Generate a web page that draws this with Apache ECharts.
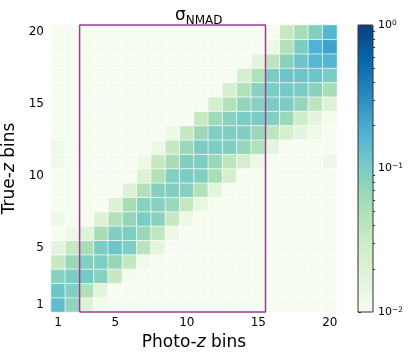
<!DOCTYPE html>
<html>
<head>
<meta charset="utf-8">
<script src="https://cdn.jsdelivr.net/npm/echarts@6/dist/echarts.min.js"></script>
<style>
  html, body { margin: 0; background: #fff; }
  #main { width: 409px; height: 359px; }
</style>
</head>
<body>
<div id="main"></div>
<script>
var photoBins = ['1','2','3','4','5','6','7','8','9','10','11','12','13','14','15','16','17','18','19','20'];
var trueBins = ['1','2','3','4','5','6','7','8','9','10','11','12','13','14','15','16','17','18','19','20'];
var tickBins = ['1','5','10','15','20'];

// sigma_NMAD, one array per true-z bin, values over the 20 photo-z bins
var true01 = [0.14, 0.075, 0.019, 0.011, 0.01, 0.01, 0.01, 0.01, 0.01, 0.01, 0.01, 0.01, 0.01, 0.01, 0.01, 0.01, 0.01, 0.01, 0.01, 0.01];
var true02 = [0.12, 0.091, 0.05, 0.017, 0.01, 0.01, 0.01, 0.01, 0.01, 0.01, 0.01, 0.01, 0.01, 0.01, 0.01, 0.01, 0.01, 0.01, 0.01, 0.01];
var true03 = [0.083, 0.1, 0.11, 0.085, 0.035, 0.011, 0.01, 0.01, 0.01, 0.01, 0.01, 0.01, 0.01, 0.01, 0.01, 0.01, 0.01, 0.01, 0.01, 0.01];
var true04 = [0.035, 0.066, 0.091, 0.095, 0.072, 0.037, 0.012, 0.01, 0.01, 0.01, 0.01, 0.01, 0.01, 0.01, 0.01, 0.01, 0.01, 0.01, 0.01, 0.01];
var true05 = [0.016, 0.035, 0.056, 0.1, 0.12, 0.095, 0.042, 0.016, 0.01, 0.01, 0.01, 0.01, 0.01, 0.01, 0.01, 0.01, 0.01, 0.01, 0.01, 0.01];
var true06 = [0.01, 0.013, 0.019, 0.056, 0.091, 0.095, 0.066, 0.038, 0.013, 0.01, 0.01, 0.01, 0.01, 0.01, 0.01, 0.01, 0.01, 0.01, 0.01, 0.01];
var true07 = [0.013, 0.01, 0.01, 0.019, 0.048, 0.072, 0.1, 0.083, 0.035, 0.013, 0.01, 0.01, 0.01, 0.01, 0.01, 0.01, 0.01, 0.01, 0.01, 0.01];
var true08 = [0.01, 0.01, 0.01, 0.01, 0.019, 0.056, 0.085, 0.085, 0.066, 0.035, 0.015, 0.01, 0.01, 0.01, 0.01, 0.01, 0.01, 0.01, 0.01, 0.01];
var true09 = [0.01, 0.01, 0.01, 0.01, 0.01, 0.019, 0.048, 0.088, 0.091, 0.085, 0.048, 0.017, 0.01, 0.01, 0.01, 0.01, 0.01, 0.01, 0.01, 0.01];
var true10 = [0.01, 0.01, 0.01, 0.01, 0.01, 0.01, 0.019, 0.05, 0.091, 0.1, 0.091, 0.054, 0.025, 0.01, 0.01, 0.01, 0.01, 0.01, 0.01, 0.01];
var true11 = [0.012, 0.01, 0.01, 0.01, 0.01, 0.01, 0.013, 0.035, 0.056, 0.091, 0.095, 0.066, 0.04, 0.025, 0.013, 0.01, 0.01, 0.01, 0.01, 0.013];
var true12 = [0.012, 0.01, 0.01, 0.01, 0.01, 0.01, 0.01, 0.013, 0.035, 0.066, 0.1, 0.1, 0.091, 0.072, 0.048, 0.016, 0.01, 0.01, 0.01, 0.01];
var true13 = [0.01, 0.01, 0.01, 0.01, 0.01, 0.01, 0.01, 0.01, 0.013, 0.035, 0.066, 0.091, 0.095, 0.091, 0.068, 0.04, 0.025, 0.016, 0.012, 0.01];
var true14 = [0.01, 0.01, 0.01, 0.01, 0.01, 0.01, 0.01, 0.01, 0.01, 0.01, 0.035, 0.062, 0.083, 0.1, 0.1, 0.091, 0.066, 0.028, 0.016, 0.011];
var true15 = [0.01, 0.01, 0.01, 0.01, 0.01, 0.01, 0.01, 0.01, 0.01, 0.01, 0.01, 0.025, 0.048, 0.072, 0.085, 0.1, 0.1, 0.072, 0.04, 0.019];
var true16 = [0.01, 0.01, 0.01, 0.01, 0.01, 0.01, 0.01, 0.01, 0.01, 0.01, 0.01, 0.01, 0.025, 0.048, 0.083, 0.1, 0.105, 0.1, 0.083, 0.056];
var true17 = [0.01, 0.01, 0.01, 0.01, 0.01, 0.01, 0.01, 0.01, 0.01, 0.01, 0.01, 0.01, 0.01, 0.025, 0.048, 0.1, 0.12, 0.12, 0.12, 0.1];
var true18 = [0.01, 0.01, 0.01, 0.01, 0.01, 0.01, 0.01, 0.01, 0.01, 0.01, 0.01, 0.01, 0.01, 0.01, 0.016, 0.04, 0.083, 0.12, 0.16, 0.17];
var true19 = [0.01, 0.01, 0.01, 0.01, 0.01, 0.01, 0.01, 0.01, 0.01, 0.01, 0.01, 0.01, 0.01, 0.01, 0.01, 0.013, 0.048, 0.1, 0.18, 0.23];
var true20 = [0.01, 0.01, 0.01, 0.01, 0.01, 0.01, 0.01, 0.01, 0.01, 0.01, 0.01, 0.01, 0.01, 0.01, 0.01, 0.01, 0.035, 0.056, 0.091, 0.16];

var cbarTicks = [-2, -1, 0];          // log10 of colorbar ticks
var boxX = [2.5, 2.5, 15.5, 15.5, 2.5];  // selected photo-z range
var boxY = [0.5, 20.5, 20.5, 0.5, 0.5];

var gnbu = ['#f7fcf0','#e0f3db','#ccebc5','#a8ddb5','#7bccc4','#4eb3d3','#2b8cbe','#0868ac','#084081'];
var font = 'DejaVu Sans';

var rows = [true01, true02, true03, true04, true05, true06, true07, true08, true09, true10,
            true11, true12, true13, true14, true15, true16, true17, true18, true19, true20];
var heat = [];
for (var j = 0; j < rows.length; j++) {
  for (var i = 0; i < rows[j].length; i++) {
    heat.push([i, j, Math.log10(rows[j][i])]);
  }
}
// log minor ticks 2..9 x 10^k
var minorTicks = [];
for (var e = -2; e < 0; e++) {
  for (var k = 2; k <= 9; k++) minorTicks.push(e + Math.log10(k));
}

function showTick(idx, val) {
  return tickBins.indexOf(String(val)) >= 0;
}

var chart = echarts.init(document.getElementById('main'));
var option = {
  animation: false,
  backgroundColor: '#fff',
  textStyle: { fontFamily: font },
  title: {
    text: '{s|σ}{sub|NMAD}',
    left: 170,
    top: 0,
    textStyle: {
      fontWeight: 'normal',
      rich: {
        s: { fontSize: 17, lineHeight: 22, fontFamily: font, fontWeight: 'normal', color: '#000' },
        sub: { fontSize: 12, lineHeight: 13, verticalAlign: 'bottom', fontFamily: font, fontWeight: 'normal', color: '#000' }
      }
    }
  },
  grid: [
    { left: 51, top: 25, width: 286, height: 287, outerBoundsMode: 'none' },
    { left: 358, top: 25, width: 15, height: 287, show: true, borderColor: '#333', borderWidth: 1,
      backgroundColor: 'transparent', z: 5, outerBoundsMode: 'none' },
    { left: 51, top: 25, width: 286, height: 287, outerBoundsMode: 'none' }
  ],
  xAxis: [
    {
      type: 'category', gridIndex: 0, data: photoBins,
      axisLine: { show: false },
      axisTick: { interval: showTick, alignWithLabel: true, length: 3, lineStyle: { color: '#333' } },
      axisLabel: { interval: showTick, fontSize: 12, color: '#000', margin: 5, fontFamily: font },
      splitLine: { show: false },
      name: '{t|Photo-}{i|z}{t| bins}',
      nameLocation: 'middle', nameGap: 22,
      nameTextStyle: {
        rich: {
          t: { fontSize: 17, fontFamily: font, color: '#000' },
          i: { fontSize: 17, fontFamily: font, fontStyle: 'italic', color: '#000' }
        }
      }
    },
    { type: 'value', gridIndex: 1, min: 0, max: 1, show: false },
    { type: 'value', gridIndex: 2, min: 0.5, max: 20.5, show: false }
  ],
  yAxis: [
    {
      type: 'category', gridIndex: 0, data: trueBins,
      axisLine: { show: false },
      axisTick: { interval: showTick, alignWithLabel: true, length: 3, lineStyle: { color: '#333' } },
      axisLabel: { interval: showTick, fontSize: 12, color: '#000', margin: 7, fontFamily: font },
      splitLine: { show: false },
      name: '{t|True-}{i|z}{t| bins}',
      nameLocation: 'middle', nameGap: 22, nameRotate: 90,
      nameTextStyle: {
        rich: {
          t: { fontSize: 17, fontFamily: font, color: '#000' },
          i: { fontSize: 17, fontFamily: font, fontStyle: 'italic', color: '#000' }
        }
      }
    },
    {
      type: 'value', gridIndex: 1, min: -2, max: 0, position: 'right', offset: 0,
      axisLine: { show: false },
      axisTick: { show: true, length: 3, customValues: cbarTicks, lineStyle: { color: '#333' } },
      axisLabel: {
        customValues: cbarTicks, margin: 5,
        formatter: function (v) {
          return '{b|10}{p|' + (v < 0 ? '\u2212' + Math.abs(v) : v) + '}';
        },
        rich: {
          b: { fontSize: 11, lineHeight: 12, fontFamily: font, color: '#000' },
          p: { fontSize: 7.5, lineHeight: 8, verticalAlign: 'top', fontFamily: font, color: '#000' }
        }
      },
      splitLine: { show: false }
    },
    {
      type: 'value', gridIndex: 1, min: -2, max: 0, position: 'right', offset: 0,
      axisLine: { show: false },
      axisTick: { show: true, length: 2, customValues: minorTicks, lineStyle: { color: '#333' } },
      axisLabel: { show: false },
      splitLine: { show: false }
    },
    { type: 'value', gridIndex: 2, min: 0.5, max: 20.5, show: false }
  ],
  visualMap: {
    type: 'continuous',
    seriesIndex: 0,
    dimension: 2,
    min: -2,
    max: 0,
    inRange: { color: gnbu },
    left: 358,
    top: 25,
    itemWidth: 15,
    itemHeight: 287,
    padding: 0,
    calculable: false,
    hoverLink: false,
    showLabel: false
  },
  series: [
    {
      type: 'heatmap',
      xAxisIndex: 0,
      yAxisIndex: 0,
      data: heat,
      itemStyle: { borderColor: 'rgba(255,255,255,0.85)', borderWidth: 0.8 },
      emphasis: { disabled: true },
      silent: true
    },
    {
      type: 'line',
      xAxisIndex: 2,
      yAxisIndex: 3,
      data: boxX.map(function (x, i) { return [x, boxY[i]]; }),
      symbol: 'none',
      clip: false,
      silent: true,
      z: 10,
      lineStyle: { color: '#993d99', width: 1.5 }
    }
  ]
};
chart.setOption(option);
</script>
</body>
</html>
